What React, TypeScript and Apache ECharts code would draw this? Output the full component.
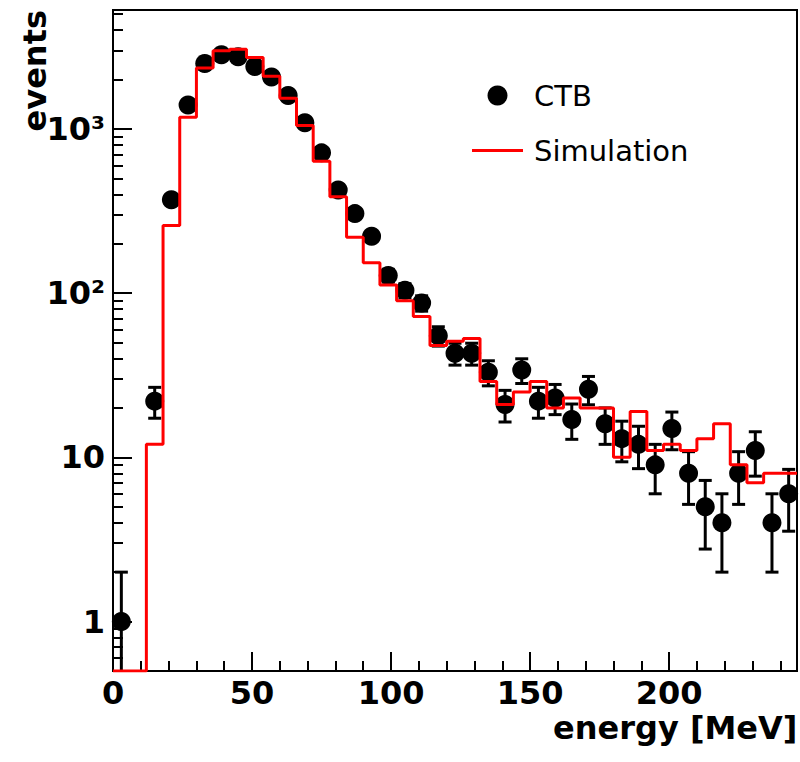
import React, { useEffect, useRef } from "react";
import * as echarts from "echarts";

// ---- axis ranges ----
const X_MIN = 0;
const X_MAX = 246;
const Y_MIN = 0.5;
const Y_MAX = 5300;
const BIN_WIDTH = 6;

// ---- CTB data (bin centres, counts) ----
const ctbEnergy = [3, 15, 21, 27, 33, 39, 45, 51, 57, 63, 69, 75, 81, 87, 93, 99, 105, 111, 117, 123, 129, 135, 141, 147, 153, 159, 165, 171, 177, 183, 189, 195, 201, 207, 213, 219, 225, 231, 237, 243];
const ctbEvents = [1, 22, 370, 1400, 2500, 2830, 2750, 2400, 2070, 1600, 1090, 715, 425, 305, 222, 128, 104, 87, 55, 43, 43, 33, 21, 34, 22, 23, 17, 26, 16, 13, 12, 9, 15, 8, 5, 4, 8, 11, 4, 6];

// ---- Simulation histogram (bin lower edges, contents) ----
const simBinLow = [0, 6, 12, 18, 24, 30, 36, 42, 48, 54, 60, 66, 72, 78, 84, 90, 96, 102, 108, 114, 120, 126, 132, 138, 144, 150, 156, 162, 168, 174, 180, 186, 192, 198, 204, 210, 216, 222, 228, 234, 240];
const simValues = [0, 0, 12, 258, 1180, 2350, 2990, 3060, 2720, 2090, 1535, 1050, 635, 386, 219, 153, 112, 90, 72, 48, 51, 53, 29, 21, 25, 29, 20, 23, 20, 20, 10, 19, 11, 12, 11, 13, 16, 9, 7, 8, 8];

// ---- ticks ----
const xMajorTicks = [0, 50, 100, 150, 200];
const xMinorTicks = [10, 20, 30, 40, 60, 70, 80, 90, 110, 120, 130, 140, 160, 170, 180, 190, 210, 220, 230, 240];
const yMajorTicks = [1, 10, 100, 1000];
const yTickTexts = ["1", "10", "10\u00B2", "10\u00B3"];
const yMinorTicks = [0.6, 0.7, 0.8, 0.9, 2, 3, 4, 5, 6, 7, 8, 9, 20, 30, 40, 50, 60, 70, 80, 90, 200, 300, 400, 500, 600, 700, 800, 900, 2000, 3000, 4000, 5000];

const FONT = "DejaVu Sans";

export default function App() {
  const ref = useRef<HTMLDivElement | null>(null);

  useEffect(() => {
    if (!ref.current) return;
    const chart = echarts.init(ref.current, undefined, { renderer: "svg" });

    const ctbPoints = ctbEnergy.map((x, i) => [x, ctbEvents[i]]);
    const ctbErrors = ctbEnergy.map((x, i) => {
      const n = ctbEvents[i];
      const e = Math.sqrt(n);
      return [x, n, n - e, n + e];
    });
    const simLine: number[][] = [];
    simBinLow.forEach((lo, i) => {
      const v = Math.max(simValues[i], Y_MIN);
      simLine.push([lo, v], [lo + BIN_WIDTH, v]);
    });

    const axisLineStyle = { color: "#000", width: 2 };
    const labelFont = { color: "#000", fontFamily: FONT, fontWeight: "bold" as const, fontSize: 32 };

    const option: any = {
      animation: false,
      backgroundColor: "#fff",
      grid: {
        left: 113,
        top: 10,
        width: 684,
        height: 661,
        show: true,
        borderColor: "#000",
        borderWidth: 2,
        backgroundColor: "transparent",
        outerBoundsMode: "none",
      },
      legend: {
        orient: "vertical",
        left: 472,
        top: 81,
        padding: 0,
        itemWidth: 51,
        itemHeight: 20,
        itemGap: 26,
        selectedMode: false,
        textStyle: { fontFamily: FONT, fontSize: 29, color: "#000", padding: [0, 0, 0, 6] },
        data: [
          { name: "CTB", icon: "circle", itemStyle: { color: "#000", opacity: 1 } },
          { name: "Simulation", icon: "path://M0,0H51V3H0Z", itemStyle: { color: "#ff0000" } },
        ],
      },
      xAxis: [
        {
          type: "value",
          min: X_MIN,
          max: X_MAX,
          position: "bottom",
          axisLine: { lineStyle: axisLineStyle },
          axisTick: { inside: true, length: 19, lineStyle: axisLineStyle, customValues: xMajorTicks },
          axisLabel: { ...labelFont, margin: 9, lineHeight: 26, customValues: xMajorTicks },
          splitLine: { show: false },
          name: "energy [MeV]",
          nameLocation: "middle",
          nameGap: 41,
          nameMoveOverlap: false,
          nameTextStyle: { ...labelFont, align: "left", verticalAlign: "top", padding: [0, 0, 0, 98] },
        },
        {
          type: "value",
          min: X_MIN,
          max: X_MAX,
          position: "bottom",
          axisLine: { show: false },
          axisTick: { inside: true, length: 10, lineStyle: axisLineStyle, customValues: xMinorTicks },
          axisLabel: { show: false },
          splitLine: { show: false },
        },
      ],
      yAxis: [
        {
          type: "log",
          logBase: 10,
          min: Y_MIN,
          max: Y_MAX,
          position: "left",
          axisLine: { lineStyle: axisLineStyle },
          axisTick: { inside: true, length: 19, lineStyle: axisLineStyle, customValues: yMajorTicks },
          axisLabel: {
            ...labelFont,
            margin: 8,
            customValues: yMajorTicks,
            formatter: (v: number) => {
              const idx = yMajorTicks.findIndex((t) => Math.abs(Math.log10(t) - Math.log10(v)) < 1e-6);
              return idx >= 0 ? yTickTexts[idx] : "";
            },
          },
          splitLine: { show: false },
          name: "events",
          nameLocation: "end",
          nameGap: 0,
          nameRotate: 90,
          nameMoveOverlap: false,
          nameTextStyle: { ...labelFont, align: "right", verticalAlign: "bottom", padding: [0, 0, 62, 0] },
        },
        {
          type: "log",
          logBase: 10,
          min: Y_MIN,
          max: Y_MAX,
          position: "left",
          axisLine: { show: false },
          axisTick: { inside: true, length: 10, lineStyle: axisLineStyle, customValues: yMinorTicks },
          axisLabel: { show: false },
          splitLine: { show: false },
        },
      ],
      series: [
        {
          type: "custom",
          name: "CTB errors",
          xAxisIndex: 0,
          yAxisIndex: 0,
          data: ctbErrors,
          encode: { x: 0, y: 1 },
          clip: true,
          z: 2,
          silent: true,
          renderItem: (params: any, api: any) => {
            const x = api.value(0);
            const lo = api.value(2);
            const hi = api.value(3);
            const top = api.coord([x, hi]);
            const bot = api.coord([x, Math.max(lo, Y_MIN)]);
            const hw = 6.5;
            const st = { stroke: "#000", lineWidth: 3 };
            const children: any[] = [
              { type: "line", shape: { x1: top[0], y1: top[1], x2: bot[0], y2: bot[1] }, style: st },
              { type: "line", shape: { x1: top[0] - hw, y1: top[1], x2: top[0] + hw, y2: top[1] }, style: st },
            ];
            if (lo >= Y_MIN) {
              children.push({ type: "line", shape: { x1: bot[0] - hw, y1: bot[1], x2: bot[0] + hw, y2: bot[1] }, style: st });
            }
            return { type: "group", children };
          },
        },
        {
          type: "scatter",
          name: "CTB",
          xAxisIndex: 0,
          yAxisIndex: 0,
          data: ctbPoints,
          symbol: "circle",
          symbolSize: 19,
          itemStyle: { color: "#000", opacity: 1 },
          z: 3,
        },
        {
          type: "line",
          name: "Simulation",
          xAxisIndex: 0,
          yAxisIndex: 0,
          data: simLine,
          symbol: "none",
          showSymbol: false,
          lineStyle: { color: "#ff0000", width: 3 },
          itemStyle: { color: "#ff0000" },
          z: 4,
          clip: true,
        },
      ],
    };

    chart.setOption(option);
    return () => chart.dispose();
  }, []);

  return (
    <div
      ref={ref}
      style={{ position: "absolute", left: 0, top: 0, width: 800, height: 762, background: "#fff" }}
    />
  );
}
